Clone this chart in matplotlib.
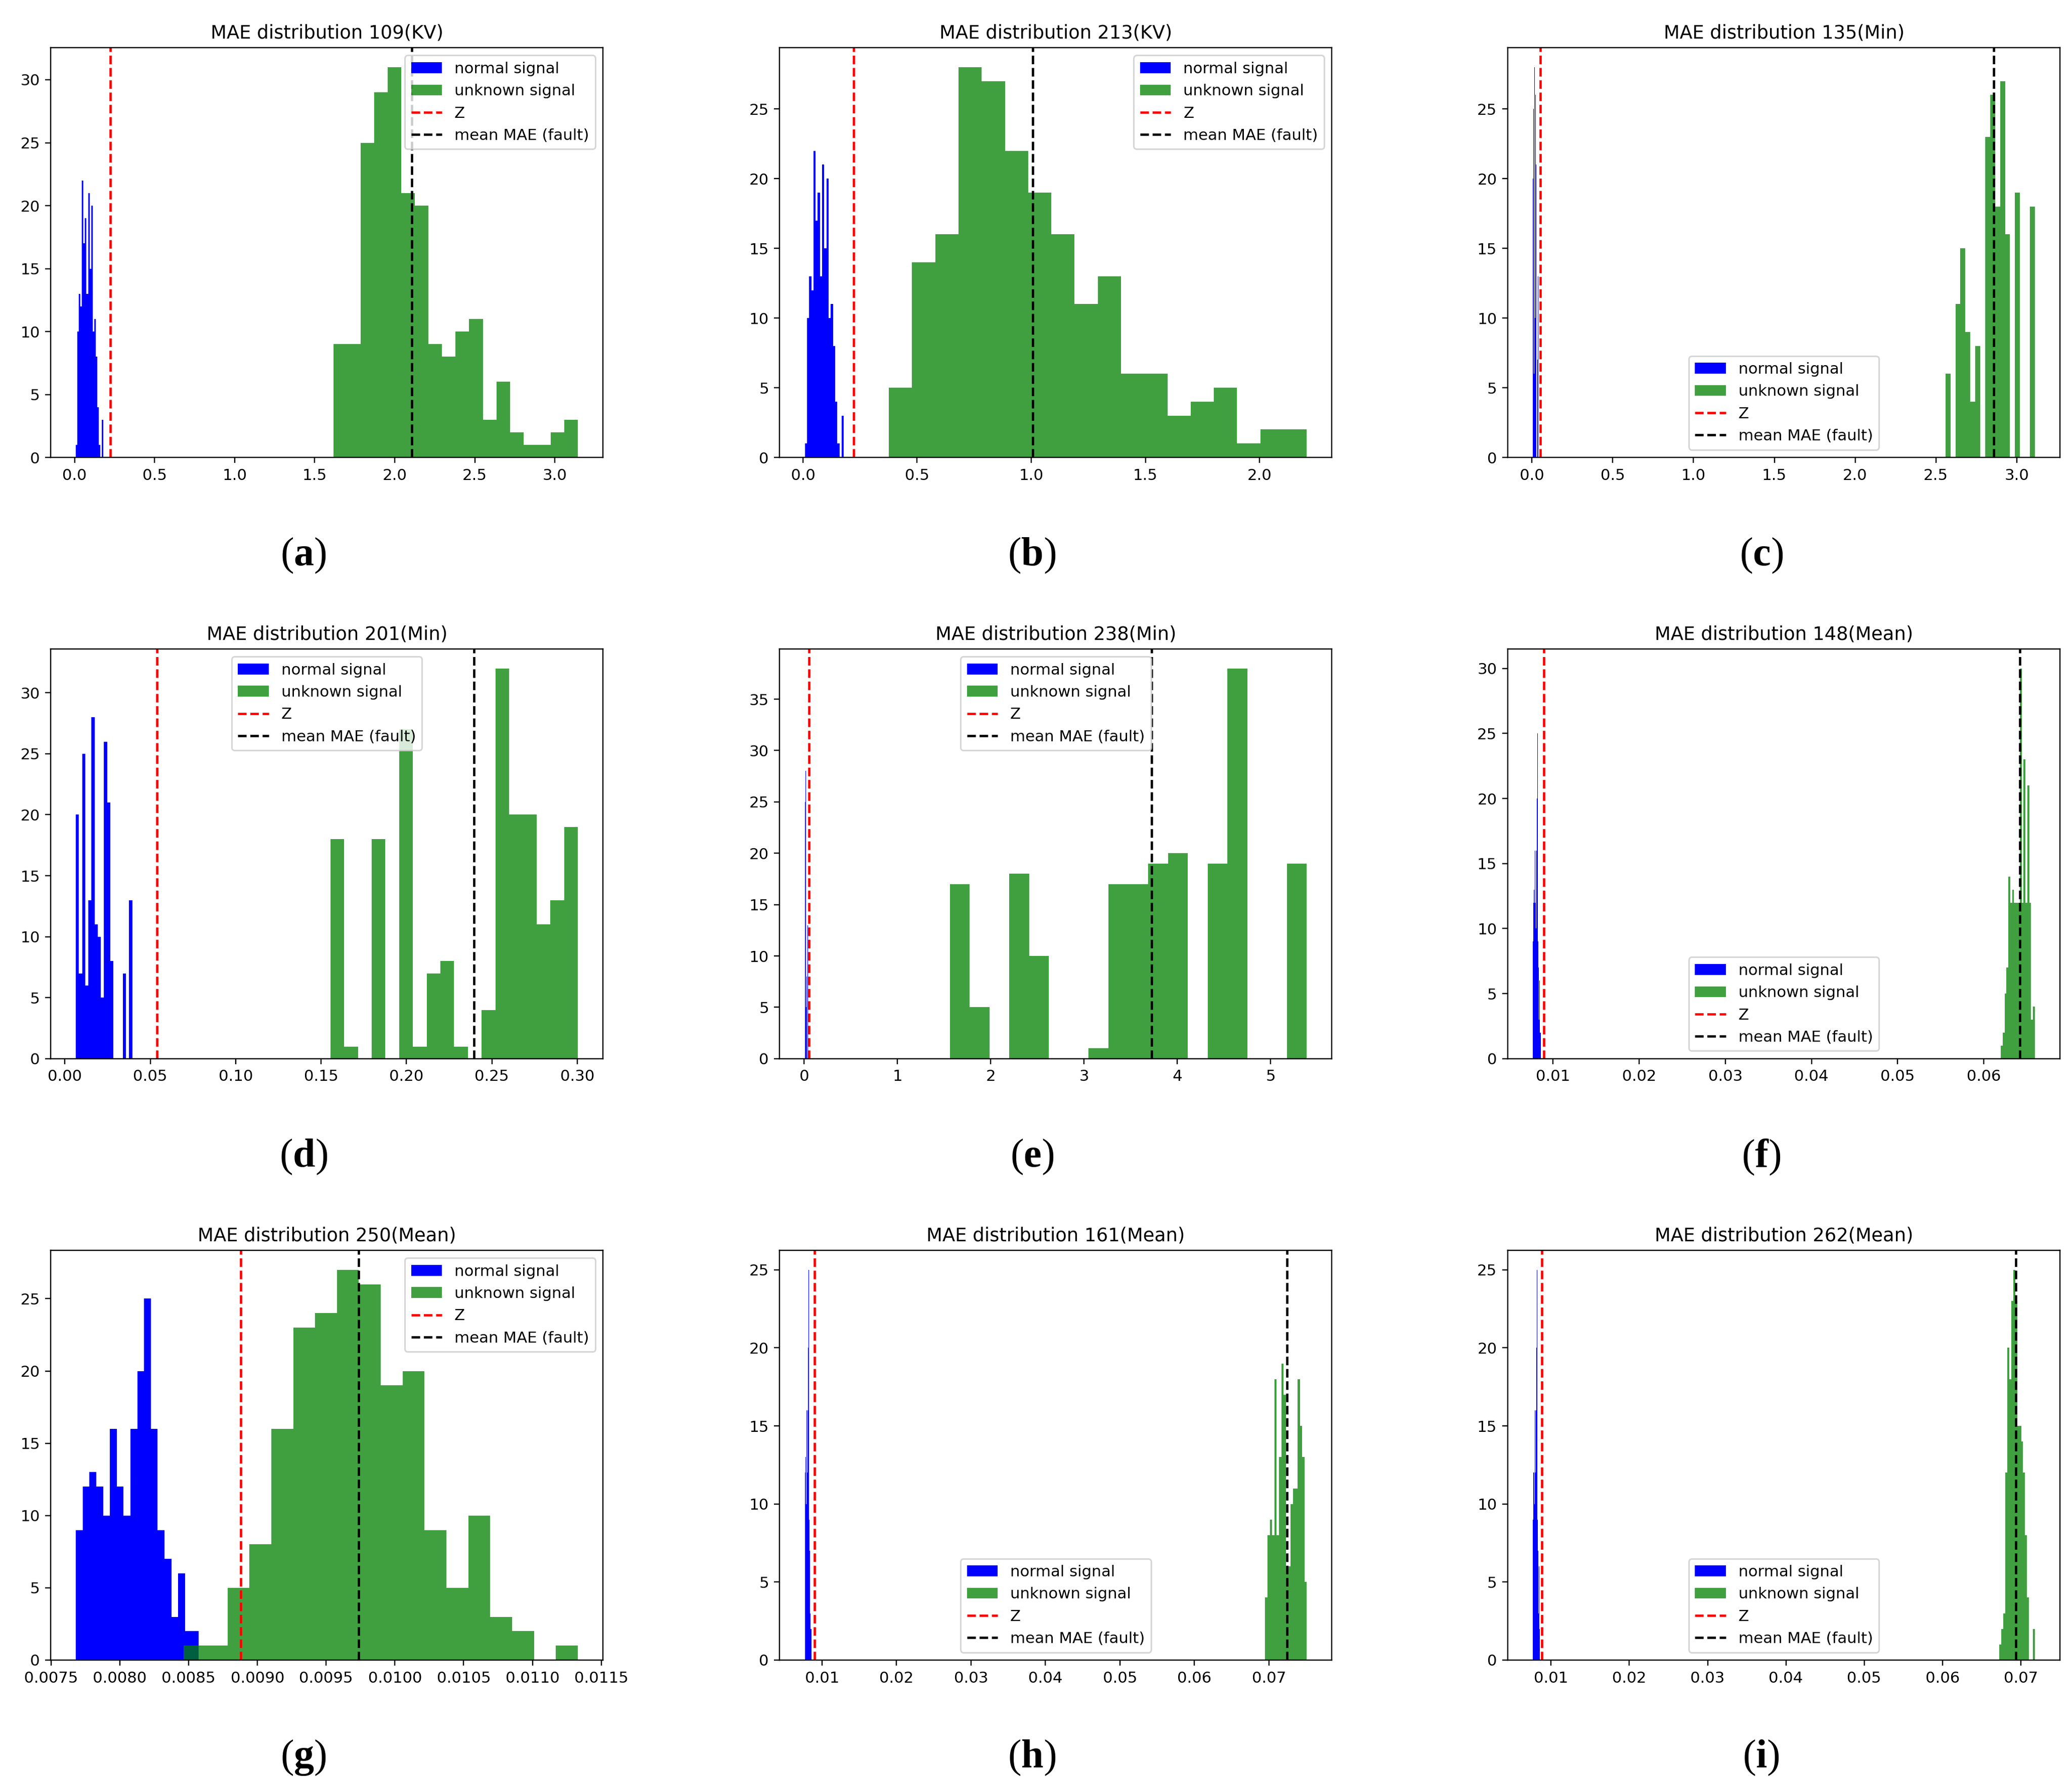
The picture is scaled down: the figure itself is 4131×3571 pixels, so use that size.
import numpy as np
import matplotlib.pyplot as plt

plt.rcParams['mathtext.fontset'] = 'custom'
plt.rcParams['mathtext.rm'] = 'Liberation Serif'
plt.rcParams['mathtext.bf'] = 'Liberation Serif:bold'

# normal signal histograms (18 bins), one set per feature type
kv_normal_range = (0.008, 0.179)
kv_normal_counts = [1, 10, 13, 12, 22, 17, 19, 13, 21, 15, 20, 10, 11, 8, 4, 1, 0, 3]
min_normal_range = (0.0064, 0.0394)
min_normal_counts = [20, 7, 25, 6, 13, 28, 11, 10, 5, 26, 21, 8, 0, 0, 0, 7, 0, 13]
mean_normal_range = (0.00768, 0.008573)
mean_normal_counts = [9, 12, 13, 12, 10, 16, 12, 10, 16, 20, 25, 16, 9, 7, 3, 6, 2, 2]

titles = ["MAE distribution 109(KV)", "MAE distribution 213(KV)", "MAE distribution 135(Min)",
          "MAE distribution 201(Min)", "MAE distribution 238(Min)", "MAE distribution 148(Mean)",
          "MAE distribution 250(Mean)", "MAE distribution 161(Mean)", "MAE distribution 262(Mean)"]
panel_labels = ["a", "b", "c", "d", "e", "f", "g", "h", "i"]
normal_type = ["kv", "kv", "min", "min", "min", "mean", "mean", "mean", "mean"]

unknown_ranges = [(1.617, 3.144), (0.376, 2.207), (2.559, 3.112),
                  (0.1555, 0.3004), (1.56, 5.387), (0.06196, 0.06592),
                  (0.008464, 0.01133), (0.06949, 0.07508), (0.06728, 0.0718)]
unknown_counts = [
    [9, 9, 25, 29, 31, 21, 20, 9, 8, 10, 11, 3, 6, 2, 1, 1, 2, 3],
    [5, 14, 16, 28, 27, 22, 19, 16, 11, 13, 6, 6, 3, 4, 5, 1, 2, 2],
    [6, 0, 11, 15, 9, 4, 8, 0, 23, 26, 18, 27, 16, 0, 19, 0, 0, 18],
    [18, 1, 0, 18, 0, 27, 1, 7, 8, 1, 0, 4, 32, 20, 20, 11, 13, 19],
    [17, 5, 0, 18, 10, 0, 0, 1, 17, 17, 19, 20, 0, 19, 38, 0, 0, 19],
    [1, 2, 5, 7, 14, 12, 13, 12, 12, 12, 30, 12, 23, 12, 21, 12, 3, 4],
    [1, 1, 5, 8, 16, 23, 24, 27, 26, 19, 20, 9, 5, 10, 3, 2, 0, 1],
    [4, 8, 9, 8, 18, 8, 13, 19, 17, 6, 6, 10, 11, 11, 18, 15, 13, 5],
    [1, 2, 3, 12, 20, 18, 23, 25, 23, 15, 15, 14, 12, 8, 4, 0, 0, 2],
]
z_values = [0.222, 0.222, 0.0535, 0.0539, 0.051, 0.00895, 0.00888, 0.00901, 0.00884]
mean_fault = [2.108, 1.006, 2.857, 0.2397, 3.724, 0.0642, 0.009736, 0.07245, 0.06938]
legend_locs = ["upper right", "upper right", "lower center",
               "upper center", "upper center", "lower center",
               "upper right", "lower center", "lower center"]

normals = {
    "kv": (kv_normal_range, kv_normal_counts),
    "min": (min_normal_range, min_normal_counts),
    "mean": (mean_normal_range, mean_normal_counts),
}


def draw_hist(ax, rng, counts, **kw):
    edges = np.linspace(rng[0], rng[1], len(counts) + 1)
    centers = (edges[:-1] + edges[1:]) / 2
    ax.hist(centers, bins=edges, weights=counts, **kw)


fig = plt.figure(figsize=(4131 / 222, 3571 / 222), dpi=222)

col_left = [0.0245, 0.3763, 0.7277]
row_bottom = [0.7446, 0.4089, 0.0731]
ax_w, ax_h = 0.2665, 0.2288
label_x = [0.1465, 0.498, 0.850]
label_y = [0.6897, 0.354, 0.0185]

for k in range(9):
    r, c = divmod(k, 3)
    ax = fig.add_axes([col_left[c], row_bottom[r], ax_w, ax_h])
    n_rng, n_counts = normals[normal_type[k]]
    draw_hist(ax, n_rng, n_counts, color="blue", label="normal signal")
    draw_hist(ax, unknown_ranges[k], unknown_counts[k], color="green", alpha=0.75,
              label="unknown signal")
    ax.axvline(z_values[k], color="red", linestyle="--", label="Z")
    ax.axvline(mean_fault[k], color="black", linestyle="--", label="mean MAE (fault)")
    ax.set_title(titles[k])
    ax.legend(loc=legend_locs[k])
    fig.text(label_x[c], label_y[r], "($\\mathbf{%s}$)" % panel_labels[k],
             fontsize=26, family="Liberation Serif", ha="center", va="center")

fig.savefig("out.png", dpi=222)
